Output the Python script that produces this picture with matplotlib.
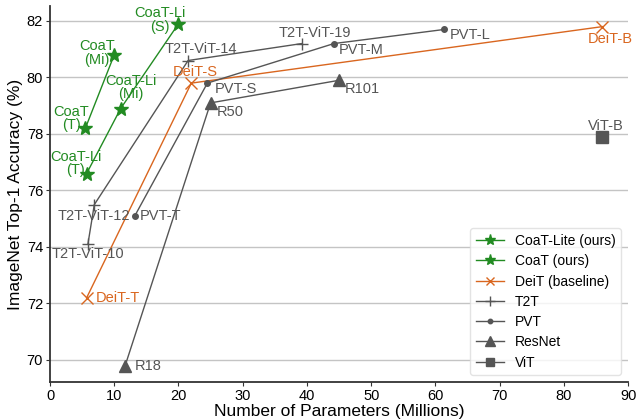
import matplotlib
matplotlib.use("Agg")
import matplotlib.pyplot as plt

plt.rcParams['font.family'] = ['Liberation Sans', 'DejaVu Sans']

# ---- data ----
coat_lite_params = [5.7, 11.0, 20.0]
coat_lite_acc = [76.6, 78.9, 81.9]
coat_lite_labels = ["CoaT-Li\n(T)", "CoaT-Li\n(Mi)", "CoaT-Li\n(S)"]

coat_params = [5.5, 10.0]
coat_acc = [78.2, 80.8]
coat_labels = ["CoaT\n(T)", "CoaT\n(Mi)"]

deit_params = [5.7, 22.0, 86.0]
deit_acc = [72.2, 79.8, 81.8]
deit_labels = ["DeiT-T", "DeiT-S", "DeiT-B"]

t2t_params = [5.9, 6.9, 21.5, 39.2]
t2t_acc = [74.1, 75.5, 80.6, 81.2]
t2t_labels = ["T2T-ViT-10", "T2T-ViT-12", "T2T-ViT-14", "T2T-ViT-19"]

pvt_params = [13.2, 24.5, 44.2, 61.4]
pvt_acc = [75.1, 79.8, 81.2, 81.7]
pvt_labels = ["PVT-T", "PVT-S", "PVT-M", "PVT-L"]

resnet_params = [11.7, 25.0, 45.0]
resnet_acc = [69.8, 79.1, 79.9]
resnet_labels = ["R18", "R50", "R101"]

vit_params = [86.0]
vit_acc = [77.9]
vit_labels = ["ViT-B"]

xticks = [0, 10, 20, 30, 40, 50, 60, 70, 80, 90]
yticks = [70, 72, 74, 76, 78, 80, 82]

GREEN = '#228b22'
ORANGE = '#d9661f'
GRAY = '#555555'

fig = plt.figure(figsize=(6.37, 4.19), dpi=100)
ax = fig.add_axes([0.0785, 0.0883, 0.9075, 0.8974])

for y in yticks:
    ax.axhline(y, color='#c4c4c4', lw=1.0, zorder=0)

ax.plot(coat_lite_params, coat_lite_acc, '-*', color=GREEN, lw=1, ms=10, label='CoaT-Lite (ours)')
ax.plot(coat_params, coat_acc, '-*', color=GREEN, lw=1, ms=10, label='CoaT (ours)')
ax.plot(deit_params, deit_acc, '-x', color=ORANGE, lw=1, ms=8, mew=1, label='DeiT (baseline)')
ax.plot(t2t_params, t2t_acc, '-+', color=GRAY, lw=1, ms=9, mew=1, label='T2T')
ax.plot(pvt_params, pvt_acc, '-o', color=GRAY, lw=1, ms=4, label='PVT')
ax.plot(resnet_params, resnet_acc, '-^', color=GRAY, lw=1, ms=9, label='ResNet')
ax.plot(vit_params, vit_acc, '-s', color=GRAY, lw=1, ms=8, label='ViT')

fs = 10.5

def lab(labels, xs, ys, offs, color, ha_list):
    for l, x, y, (dx, dy), ha in zip(labels, xs, ys, offs, ha_list):
        ax.annotate(l, (x, y), xytext=(dx, dy), textcoords='offset pixels',
                    ha=ha, va='center', color=color, fontsize=fs,
                    multialignment='center', linespacing=0.95)

lab(coat_lite_labels, coat_lite_params, coat_lite_acc,
    [(-11, 10), (10, 21), (-19, 4)], GREEN, ['center'] * 3)
lab(coat_labels, coat_params, coat_acc,
    [(-14, 10), (-17, 2)], GREEN, ['center'] * 2)
lab(deit_labels, deit_params, deit_acc,
    [(9, 0), (4, 11), (8, -12)], ORANGE, ['left', 'center', 'center'])
lab(t2t_labels, t2t_params, t2t_acc,
    [(0, -10), (0, -11), (13, 12), (13, 11)], GRAY, ['center'] * 4)
lab(pvt_labels, pvt_params, pvt_acc,
    [(5, 0), (7, -6), (5, -6), (5, -6)], GRAY, ['left'] * 4)
lab(resnet_labels, resnet_params, resnet_acc,
    [(10, 0), (6, -9), (6, -9)], GRAY, ['left'] * 3)
lab(vit_labels, vit_params, vit_acc, [(3, 11)], GRAY, ['center'])

ax.set_xlim(0, 90)
ax.set_ylim(69.22, 82.53)
ax.set_xticks(xticks)
ax.set_yticks(yticks)
ax.tick_params(labelsize=10.5, length=3, pad=2, color='#333333')
for s in ['top', 'right']:
    ax.spines[s].set_visible(False)
for s in ['left', 'bottom']:
    ax.spines[s].set_color('#333333')
    ax.spines[s].set_linewidth(1.3)
ax.set_xlabel('Number of Parameters (Millions)', fontsize=12.5, labelpad=1)
ax.set_ylabel('ImageNet Top-1 Accuracy (%)', fontsize=12.5, labelpad=3)

leg = ax.legend(loc='lower right', fontsize=10, frameon=True, fancybox=True,
                borderaxespad=0.5, handlelength=2.0, labelspacing=0.45,
                markerscale=0.8)
leg.get_frame().set_edgecolor('#dddddd')

fig.savefig('out.png', dpi=100)
